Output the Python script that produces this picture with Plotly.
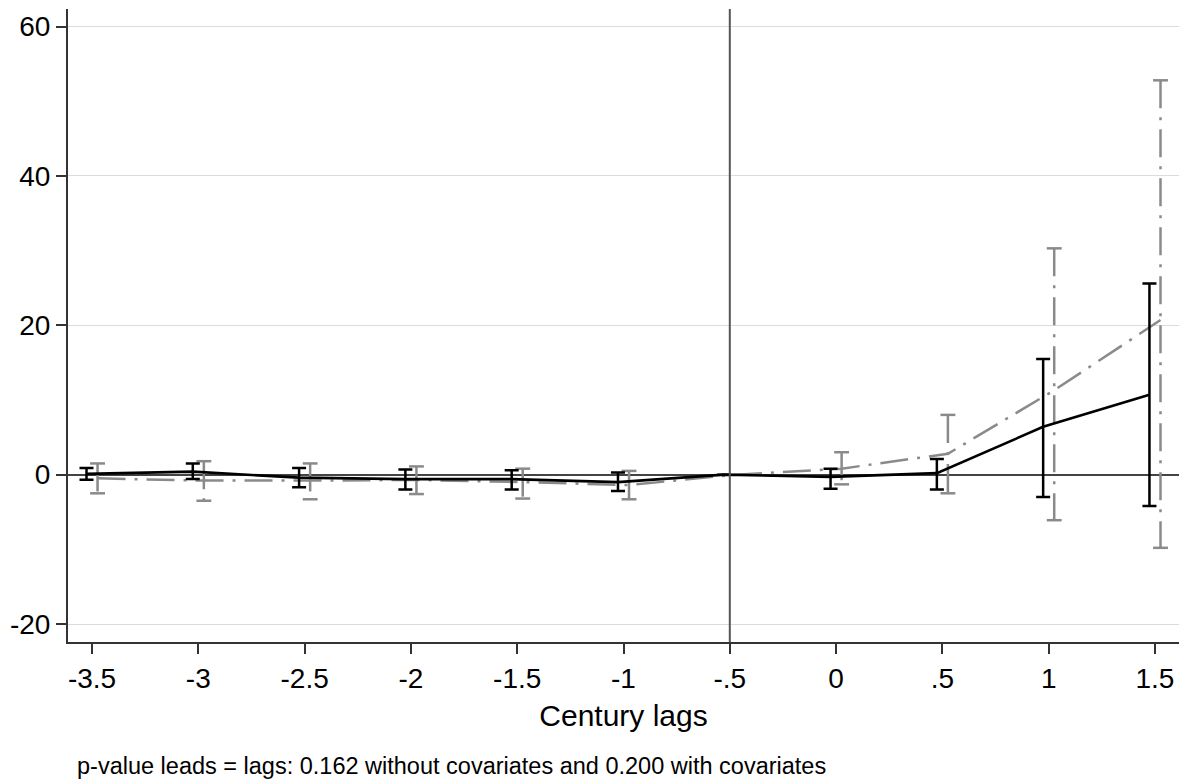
import plotly.graph_objects as go

# ---- data ----
lags = [-3.5, -3, -2.5, -2, -1.5, -1, -0.5, 0, 0.5, 1, 1.5]
tick_text = ["-3.5", "-3", "-2.5", "-2", "-1.5", "-1", "-.5", "0", ".5", "1", "1.5"]

# without covariates (black, solid)
coef_a = [0.1, 0.4, -0.4, -0.6, -0.6, -1.0, 0.0, -0.3, 0.2, 6.4, 10.7]
lo_a = [-0.7, -0.6, -1.7, -2.0, -2.0, -2.2, None, -1.9, -2.0, -3.0, -4.2]
hi_a = [0.9, 1.5, 0.9, 0.7, 0.6, 0.3, None, 0.8, 2.1, 15.5, 25.6]

# with covariates (gray, dash-dot)
coef_b = [-0.5, -0.8, -0.8, -0.7, -1.0, -1.4, 0.0, 0.8, 2.8, 11.3, 20.7]
lo_b = [-2.5, -3.5, -3.3, -2.6, -3.2, -3.3, None, -1.3, -2.5, -6.1, -9.8]
hi_b = [1.5, 1.8, 1.5, 1.1, 0.8, 0.5, None, 3.0, 8.0, 30.3, 52.8]

y_ticks = [-20, 0, 20, 40, 60]
y_tick_text = ["-20", "0", "20", "40", "60"]
ref_lag = -0.5
caption = "p-value leads = lags: 0.162 without covariates and 0.200 with covariates"

# ---- styling ----
FONT = "Liberation Sans, Arial, sans-serif"
BLACK = "#000000"
GRAY = "#8a8a8a"
DASHDOT = "28px,9px,3px,9px"
OFFSET = 0.026
CAP = 0.035

xa = [v - OFFSET for v in lags]
xb = [v + OFFSET for v in lags]

fig = go.Figure()

# gray series: stems and caps built from the CI arrays
stem_x, stem_y, cap_x, cap_y = [], [], [], []
for x, lo, hi in zip(xb, lo_b, hi_b):
    if lo is None:
        continue
    stem_x += [x, x, None]
    stem_y += [hi, lo, None]
    for v in (hi, lo):
        cap_x += [x - CAP, x + CAP, None]
        cap_y += [v, v, None]

fig.add_trace(go.Scatter(x=stem_x, y=stem_y, mode="lines",
                         line=dict(color=GRAY, width=2.5, dash=DASHDOT),
                         hoverinfo="skip", showlegend=False))
fig.add_trace(go.Scatter(x=cap_x, y=cap_y, mode="lines",
                         line=dict(color=GRAY, width=2.5),
                         hoverinfo="skip", showlegend=False))
fig.add_trace(go.Scatter(x=xb, y=coef_b, mode="lines",
                         line=dict(color=GRAY, width=2.5, dash=DASHDOT),
                         showlegend=False))

# black series with error bars
plus_a = [None if h is None else h - c for h, c in zip(hi_a, coef_a)]
minus_a = [None if l is None else c - l for l, c in zip(lo_a, coef_a)]
fig.add_trace(go.Scatter(x=xa, y=coef_a, mode="lines",
                         line=dict(color=BLACK, width=2.6),
                         error_y=dict(type="data", array=plus_a, arrayminus=minus_a,
                                      color=BLACK, thickness=2.5, width=7),
                         showlegend=False))

fig.add_shape(type="line", xref="x", yref="paper", x0=ref_lag, x1=ref_lag,
              y0=0, y1=1, line=dict(color="#555555", width=2), layer="above")

fig.add_annotation(text=caption, xref="paper", yref="paper",
                   x=0.0063, y=-0.196, xanchor="left", yanchor="middle",
                   showarrow=False, font=dict(family=FONT, size=23.5, color="#000"))

fig.update_layout(
    width=1179, height=779,
    margin=dict(l=68, r=0, t=9, b=137),
    paper_bgcolor="white", plot_bgcolor="white",
    font=dict(family=FONT, color="#000"),
    showlegend=False,
    xaxis=dict(range=[-3.613, 1.613], tickvals=lags, ticktext=tick_text,
               automargin=False,
               showgrid=False, zeroline=False,
               showline=True, linecolor="#333333", linewidth=1.5,
               ticks="outside", ticklen=10, tickwidth=1.5, tickcolor="#333333",
               ticklabelstandoff=1,
               tickfont=dict(family=FONT, size=28, color="#000"),
               title=dict(text="Century lags", standoff=12,
                          font=dict(family=FONT, size=30, color="#000"))),
    yaxis=dict(range=[-22.41, 62.35], tickvals=y_ticks, ticktext=y_tick_text,
               automargin=False,
               showgrid=True, gridcolor="#dcdcdc", gridwidth=1,
               zeroline=True, zerolinecolor="#444444", zerolinewidth=2,
               showline=True, linecolor="#333333", linewidth=2,
               ticks="outside", ticklen=10, tickwidth=1.5, tickcolor="#333333",
               tickfont=dict(family=FONT, size=28, color="#000")),
)

fig.write_html("out.html", config={"displayModeBar": False},
               post_script="document.body.style.margin='0';document.body.style.overflow='hidden';")
